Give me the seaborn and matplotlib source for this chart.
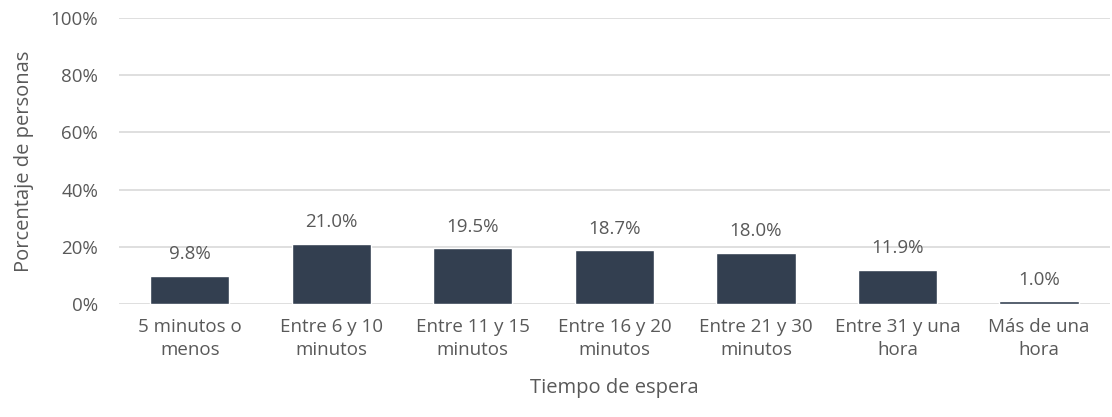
import matplotlib
matplotlib.use("Agg")
import matplotlib.pyplot as plt
import seaborn as sns
import pandas as pd
from matplotlib.ticker import PercentFormatter

# Data
categories = ["5 minutos o\nmenos", "Entre 6 y 10\nminutos", "Entre 11 y 15\nminutos",
              "Entre 16 y 20\nminutos", "Entre 21 y 30\nminutos", "Entre 31 y una\nhora",
              "Más de una\nhora"]
values = [9.8, 21.0, 19.5, 18.7, 18.0, 11.9, 1.0]
y_ticks = [0, 20, 40, 60, 80, 100]

df = pd.DataFrame({"cat": categories, "pct": values})

sns.set_theme(style="white")
plt.rcParams["font.family"] = ["Open Sans", "DejaVu Sans"]

text_color = "#595959"
fig = plt.figure(figsize=(11.12, 4.17), dpi=100)
ax = fig.add_axes([0.107, 0.271, 0.891, 0.686])

sns.barplot(data=df, x="cat", y="pct", color="#333F50", width=0.56,
            saturation=1, ax=ax, zorder=3)

for i, v in enumerate(values):
    ax.annotate(f"{v:.1f}%", (i, v), xytext=(0, 9), textcoords="offset points",
                ha="center", va="bottom", fontsize=13.5, color=text_color)

ax.set_ylim(0, 100)
ax.set_yticks(y_ticks)
ax.yaxis.set_major_formatter(PercentFormatter(decimals=0))
ax.grid(axis="y", color="#D9D9D9", linewidth=1.2, zorder=0)
ax.set_axisbelow(True)
for s in ax.spines.values():
    s.set_visible(False)
ax.tick_params(axis="both", length=0, labelsize=13.5, labelcolor=text_color)
ax.tick_params(axis="x", pad=10)
ax.tick_params(axis="y", pad=15)
for lbl in ax.get_xticklabels():
    lbl.set_linespacing(1.35)
ax.set_xlabel("Tiempo de espera", fontsize=14.5, color=text_color, labelpad=14)
ax.set_ylabel("Porcentaje de personas", fontsize=14.5, color=text_color, labelpad=12)

fig.savefig("out.png", dpi=100)
